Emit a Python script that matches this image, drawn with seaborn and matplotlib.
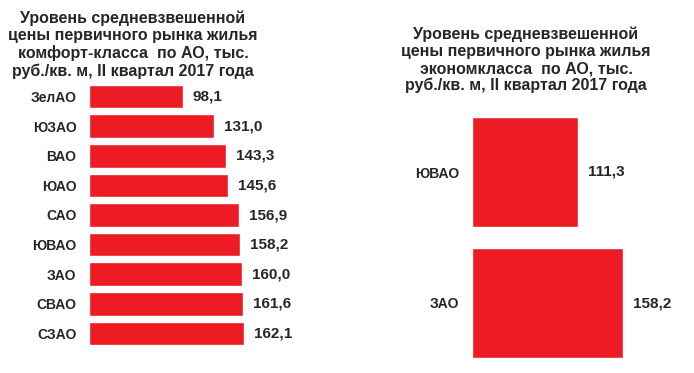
import matplotlib
matplotlib.use("Agg")
import matplotlib.pyplot as plt
import seaborn as sns
import pandas as pd

sns.set_style("white")
plt.rcParams['font.family'] = ['Liberation Sans', 'DejaVu Sans']

comfort_districts = ["ЗелАО", "ЮЗАО", "ВАО", "ЮАО", "САО", "ЮВАО", "ЗАО", "СВАО", "СЗАО"]
comfort_values = [98.1, 131.0, 143.3, 145.6, 156.9, 158.2, 160.0, 161.6, 162.1]

econom_districts = ["ЮВАО", "ЗАО"]
econom_values = [111.3, 158.2]

title_comfort = ("Уровень средневзвешенной\nцены первичного рынка жилья\n"
                 "комфорт-класса  по АО, тыс.\nруб./кв. м, II квартал 2017 года")
title_econom = ("Уровень средневзвешенной\nцены первичного рынка жилья\n"
                "экономкласса  по АО, тыс.\nруб./кв. м, II квартал 2017 года")

RED = "#ED1C24"
W, H = 694, 373
fig = plt.figure(figsize=(W / 100, H / 100), dpi=100)

def px_axes(left, top, width, height):
    return fig.add_axes([left / W, 1 - (top + height) / H, width / W, height / H])

ax1 = px_axes(89, 81.7, 191, 266.6)
ax2 = px_axes(472, 106.5, 191, 262)

df1 = pd.DataFrame({"district": comfort_districts, "value": comfort_values})
df2 = pd.DataFrame({"district": econom_districts, "value": econom_values})

sns.barplot(data=df1, x="value", y="district", orient="h", color=RED,
            saturation=1, width=0.8, ax=ax1)
sns.barplot(data=df2, x="value", y="district", orient="h", color=RED,
            saturation=1, width=0.84, ax=ax2)

for ax, vals in ((ax1, comfort_values), (ax2, econom_values)):
    ax.set_xlim(0, 200)
    ax.set_xlabel("")
    ax.set_ylabel("")
    ax.set_xticks([])
    for s in ax.spines.values():
        s.set_visible(False)
    ax.tick_params(axis="y", length=0, pad=9)
    for lab in ax.get_yticklabels():
        lab.set_fontweight("bold")
        lab.set_fontsize(10)
    ax.bar_label(ax.containers[0],
                 labels=[f"{v:.1f}".replace(".", ",") for v in vals],
                 padding=7, fontsize=11, fontweight="bold")
    ax.patch.set_alpha(0)

fig.text(133 / W, 1 - 11 / H, title_comfort, ha="center", va="top",
         fontsize=11.5, fontweight="bold", linespacing=1.15)
fig.text(526 / W, 1 - 27 / H, title_econom, ha="center", va="top",
         fontsize=11.5, fontweight="bold", linespacing=1.15)

fig.savefig("out.png", dpi=100)
